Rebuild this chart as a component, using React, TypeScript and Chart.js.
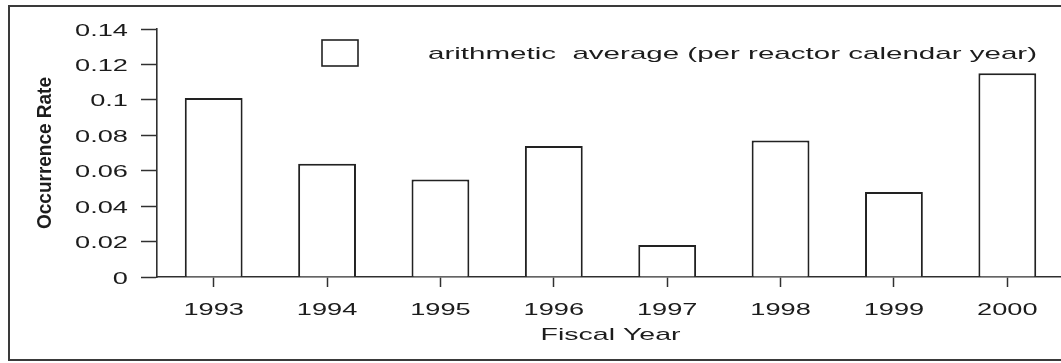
import { useEffect, useRef } from "react";
import { Chart, registerables } from "chart.js";

Chart.register(...registerables);

// Occurrence rate per fiscal year
const fiscalYears = ["1993", "1994", "1995", "1996", "1997", "1998", "1999", "2000"];
const occurrenceRates = [0.101, 0.064, 0.055, 0.074, 0.018, 0.077, 0.048, 0.115];
const seriesLabel = "arithmetic  average (per reactor calendar year)";

// Axis text
const yTickValues = [0, 0.02, 0.04, 0.06, 0.08, 0.1, 0.12, 0.14];
const yTickLabels = ["0", "0.02", "0.04", "0.06", "0.08", "0.1", "0.12", "0.14"];
const yAxisTitle = "Occurrence Rate";
const xAxisTitle = "Fiscal Year";

const INK = "#1c1c1c";
const LINE = "#303030";
const FONT = '"Liberation Sans", Arial, sans-serif';

// Draws text stretched horizontally by sx
function drawStretched(
  ctx: CanvasRenderingContext2D,
  text: string,
  x: number,
  y: number,
  sx: number,
  align: CanvasTextAlign
) {
  ctx.save();
  ctx.translate(x, y);
  ctx.scale(sx, 1);
  ctx.textAlign = align;
  ctx.fillText(text, 0, 0);
  ctx.restore();
}

const decorPlugin = {
  id: "decor",
  afterDraw(chart: any) {
    const { ctx, chartArea, scales } = chart;
    const xs = scales.x;
    const ys = scales.y;
    ctx.save();

    // outer frame (right side runs off the page)
    ctx.strokeStyle = "#3a3a3a";
    ctx.lineWidth = 2;
    ctx.beginPath();
    ctx.moveTo(chart.width, 6);
    ctx.lineTo(9, 6);
    ctx.lineTo(9, 360);
    ctx.lineTo(chart.width, 360);
    ctx.stroke();

    ctx.fillStyle = INK;
    ctx.textBaseline = "alphabetic";
    ctx.font = `17px ${FONT}`;

    // y tick labels
    ys.ticks.forEach((t: any) => {
      const py = ys.getPixelForValue(t.value);
      drawStretched(ctx, String(t.label), chartArea.left - 29, py + 6.5, 1.6, "right");
    });

    // x tick labels
    xs.ticks.forEach((t: any, i: number) => {
      const px = xs.getPixelForTick(i);
      drawStretched(ctx, String(xs.getLabelForValue(t.value)), px, chartArea.bottom + 38, 1.6, "center");
    });

    // x title
    {
      const w = ctx.measureText(xAxisTitle).width;
      drawStretched(ctx, xAxisTitle, (chartArea.left + chartArea.right) / 2, chartArea.bottom + 63, 140 / w, "center");
    }

    // y title, rotated
    {
      ctx.save();
      ctx.font = `bold 14px ${FONT}`;
      const w = ctx.measureText(yAxisTitle).width;
      ctx.translate(51, (chartArea.top + chartArea.bottom) / 2);
      ctx.rotate(-Math.PI / 2);
      ctx.scale(152 / w, 1.5);
      ctx.textAlign = "center";
      ctx.textBaseline = "alphabetic";
      ctx.fillText(yAxisTitle, 0, 0);
      ctx.restore();
    }

    // legend
    {
      const ds = chart.data.datasets[0];
      ctx.fillStyle = ds.backgroundColor;
      ctx.fillRect(322, 40, 36, 26);
      ctx.strokeStyle = ds.borderColor;
      ctx.lineWidth = 1.6;
      ctx.strokeRect(322, 40, 36, 26);
      ctx.fillStyle = INK;
      ctx.font = `17px ${FONT}`;
      const w = ctx.measureText(ds.label).width;
      drawStretched(ctx, ds.label, 428, 59, 609 / w, "left");
    }

    ctx.restore();
  },
};

export default function App() {
  const canvasRef = useRef<HTMLCanvasElement | null>(null);

  useEffect(() => {
    const canvas = canvasRef.current;
    if (!canvas) return;
    const chart = new Chart(canvas, {
      type: "bar",
      data: {
        labels: fiscalYears,
        datasets: [
          {
            label: seriesLabel,
            data: occurrenceRates,
            backgroundColor: "#ffffff",
            borderColor: "#222222",
            borderWidth: 2,
            borderSkipped: "start",
            barPercentage: 0.51,
            categoryPercentage: 1,
          },
        ],
      },
      options: {
        responsive: false,
        animation: false,
        devicePixelRatio: 1,
        layout: { padding: { left: 141, right: 8, top: 29, bottom: 76 } },
        plugins: {
          legend: { display: false },
          tooltip: { enabled: false },
          title: { display: false },
        },
        scales: {
          x: {
            offset: true,
            grid: {
              offset: false,
              drawOnChartArea: false,
              drawTicks: true,
              tickLength: 10,
              tickColor: LINE,
              tickWidth: 1.5,
              color: LINE,
            },
            border: { display: true, color: LINE, width: 1.6 },
            ticks: { display: false },
          },
          y: {
            min: 0,
            max: 0.14,
            afterBuildTicks: (scale: any) => {
              scale.ticks = yTickValues.map((v) => ({ value: v }));
            },
            grid: {
              drawOnChartArea: false,
              drawTicks: true,
              tickLength: 16,
              tickColor: LINE,
              tickWidth: 1.5,
              color: LINE,
            },
            border: { display: true, color: LINE, width: 1.6 },
            ticks: {
              display: false,
              callback: (_v: any, i: number) => yTickLabels[i],
            },
          },
        },
      },
      plugins: [decorPlugin],
    });
    return () => chart.destroy();
  }, []);

  return (
    <div
      style={{
        position: "fixed",
        left: 0,
        top: 0,
        width: 1061,
        height: 363,
        overflow: "hidden",
        background: "#ffffff",
      }}
    >
      <canvas ref={canvasRef} width={1072} height={363} style={{ display: "block" }} />
    </div>
  );
}
